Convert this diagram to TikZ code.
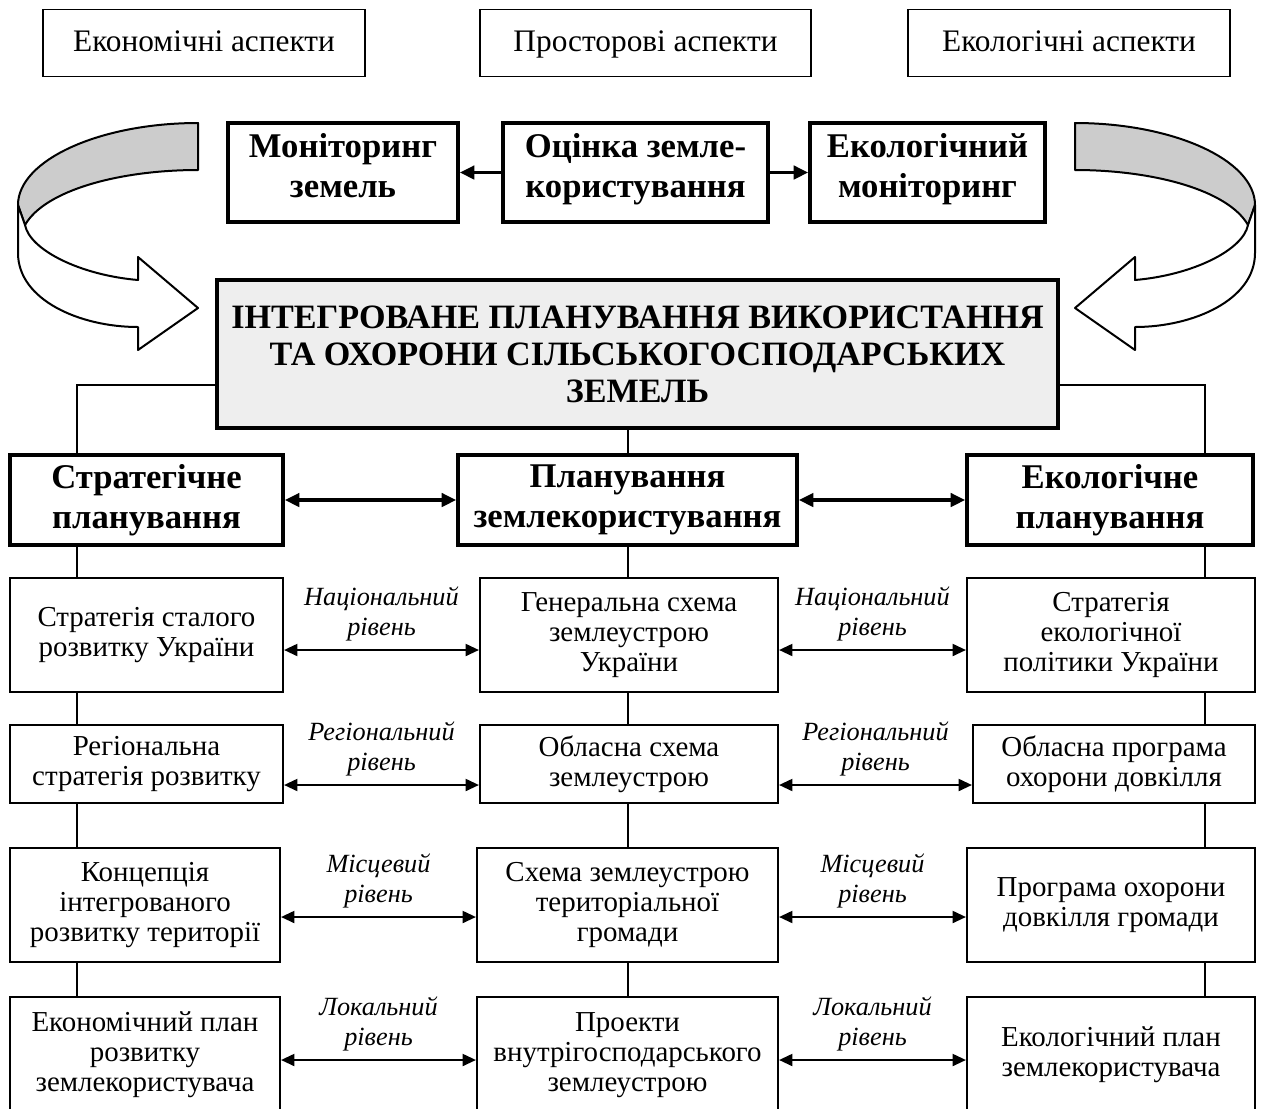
\documentclass[tikz,border=0pt]{standalone}
\usepackage{fontspec}
\setmainfont{Liberation Serif}
\usetikzlibrary{arrows.meta}

\begin{document}
\begin{tikzpicture}[
  x=0.75pt, y=-0.75pt,
  every node/.style={
    align=center, inner sep=2pt,
  },
  sz/.style 2 args={
    minimum width=#1*0.75pt, minimum height=#2*0.75pt
  },
  aspect/.style={draw, line width=1.4pt, text height=17pt, text depth=5pt,
    font=\fontsize{23.5}{26}\selectfont},
  head/.style={draw, line width=2.6pt, font=\fontsize{26}{30}\selectfont\bfseries},
  doc/.style={draw, line width=1.6pt, font=\fontsize{21.7}{22.5}\selectfont},
  lvl/.style={above, inner sep=6pt, font=\fontsize{19.7}{22.5}\selectfont\itshape},
  link/.style={line width=1.5pt},
  arr/.style={{Triangle[length=10pt,width=9pt]}-{Triangle[length=10pt,width=9pt]}, line width=1.5pt},
  bigarr/.style={{Triangle[length=11pt,width=10pt]}-{Triangle[length=11pt,width=10pt]}, line width=2.6pt},
  onearr/.style={-{Triangle[length=11pt,width=10pt]}, line width=2.6pt},
  ribbon/.style={draw, line width=1.5pt, line join=round}
  ]
  \useasboundingbox (0,0) rectangle (1261,1108);

  % aspects
  \node[aspect, sz={322}{67}] (ek) at (204,43) {Економічні аспекти};
  \node[aspect, sz={331}{67}] (pr) at (645.5,43) {Просторові аспекти};
  \node[aspect, sz={322}{67}] (ekol) at (1069,43) {Екологічні аспекти};

  % monitoring
  \node[head, text depth=10pt, sz={230}{99}] (mon) at (343,172.5) {Моніторинг\\земель};
  \node[head, text depth=10pt, sz={265}{99}] (ocin) at (635.5,172.5) {Оцінка земле-\\користування};
  \node[head, text depth=10pt, sz={235}{99}] (ecomon) at (927.5,172.5) {Екологічний\\моніторинг};
  \draw[onearr] (ocin.west) -- (mon.east);
  \draw[onearr] (ocin.east) -- (ecomon.west);

  % curved arrows
  \foreach \ox/\sx in {0/1, 1273/-1} {
    \begin{scope}[shift={(\ox,0)}, xscale=\sx]
      \draw[ribbon, fill=gray!40] (198,123) .. controls (100,123) and (18,160) .. (18,205)
        -- (25,225) .. controls (45,190) and (120,170) .. (198,170) -- cycle;
      \draw[ribbon, fill=white] (18,205) -- (18,253) .. controls (18,300) and (80,327) .. (138,327)
        -- (138,350) -- (198,308) -- (138,257) -- (138,280)
        .. controls (80,275) and (30,250) .. (25,225) -- cycle;
    \end{scope}
  }

  % main
  \node[draw, line width=2.6pt, fill=gray!13, sz={841}{148},
    font=\fontsize{25.6}{27.75}\selectfont\bfseries] (main) at (637.5,354)
    {ІНТЕГРОВАНЕ ПЛАНУВАННЯ ВИКОРИСТАННЯ\\ТА ОХОРОНИ СІЛЬСЬКОГОСПОДАРСЬКИХ\\ЗЕМЕЛЬ};

  % planning
  \node[head, sz={273}{90}] (strat) at (146.5,500) {Стратегічне\\планування};
  \node[head, sz={339}{90}] (plan) at (627.5,500) {Планування\\землекористування};
  \node[head, sz={286}{90}] (ecopl) at (1110,500) {Екологічне\\планування};
  \draw[bigarr] (strat.east) -- (plan.west);
  \draw[bigarr] (plan.east) -- (ecopl.west);

  \coordinate (lx) at (77,0);
  \coordinate (mx) at (628,0);
  \coordinate (rx) at (1205,0);
  \draw[link] (main.west |- 0,385) -| (strat.north -| lx);
  \draw[link] (main.east |- 0,385) -| (ecopl.north -| rx);
  \draw[link] (main.south -| mx) -- (plan.north -| mx);

  % national
  \node[doc, sz={273}{114}] (s1) at (146.5,635) {Стратегія сталого\\розвитку України};
  \node[doc, sz={298}{114}] (z1) at (629,635) {Генеральна схема\\землеустрою\\України};
  \node[doc, sz={288}{114}] (e1) at (1111,635) {Стратегія\\екологічної\\політики України};
  \draw[arr] (s1.east |- 0,650) -- node[lvl] {Національний\\рівень} (z1.west |- 0,650);
  \draw[arr] (z1.east |- 0,650) -- node[lvl] {Національний\\рівень} (e1.west |- 0,650);

  % regional
  \node[doc, sz={273}{78}] (s2) at (146.5,764) {Регіональна\\стратегія розвитку};
  \node[doc, sz={298}{78}] (z2) at (629,764) {Обласна схема\\землеустрою};
  \node[doc, sz={282}{78}] (e2) at (1114,764) {Обласна програма\\охорони довкілля};
  \draw[arr] (s2.east |- 0,785) -- node[lvl] {Регіональний\\рівень} (z2.west |- 0,785);
  \draw[arr] (z2.east |- 0,785) -- node[lvl] {Регіональний\\рівень} (e2.west |- 0,785);

  % local
  \node[doc, sz={270}{114}] (s3) at (145,905) {Концепція\\інтегрованого\\розвитку території};
  \node[doc, sz={301}{114}] (z3) at (627.5,905) {Схема землеустрою\\територіальної\\громади};
  \node[doc, sz={288}{114}] (e3) at (1111,905) {Програма охорони\\довкілля громади};
  \draw[arr] (s3.east |- 0,917) -- node[lvl] {Місцевий\\рівень} (z3.west |- 0,917);
  \draw[arr] (z3.east |- 0,917) -- node[lvl] {Місцевий\\рівень} (e3.west |- 0,917);

  % farm
  \node[doc, sz={270}{116}] (s4) at (145,1055) {Економічний план\\розвитку\\землекористувача};
  \node[doc, sz={301}{116}] (z4) at (627.5,1055) {Проекти\\внутрігосподарського\\землеустрою};
  \node[doc, sz={288}{116}] (e4) at (1111,1055) {Екологічний план\\землекористувача};
  \draw[arr] (s4.east |- 0,1060) -- node[lvl] {Локальний\\рівень} (z4.west |- 0,1060);
  \draw[arr] (z4.east |- 0,1060) -- node[lvl] {Локальний\\рівень} (e4.west |- 0,1060);

  \foreach \a/\b in {strat/s1, s1/s2, s2/s3, s3/s4} {
    \draw[link] (\a.south -| lx) -- (\b.north -| lx);
  }
  \foreach \a/\b in {plan/z1, z1/z2, z2/z3, z3/z4} {
    \draw[link] (\a.south -| mx) -- (\b.north -| mx);
  }
  \foreach \a/\b in {ecopl/e1, e1/e2, e2/e3, e3/e4} {
    \draw[link] (\a.south -| rx) -- (\b.north -| rx);
  }
\end{tikzpicture}
\end{document}
